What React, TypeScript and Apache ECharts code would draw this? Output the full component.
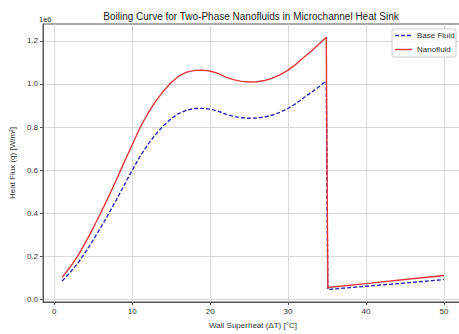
import React, { useEffect, useRef } from "react";
import * as echarts from "echarts";

const deltaT = [1, 2, 3, 4, 5, 6, 7, 8, 9, 10, 11, 12, 13, 14, 15, 16, 17, 18, 19, 20, 21, 22, 23, 24, 25, 26, 27, 28, 29, 30, 31, 32, 33, 34, 34.9, 35.1, 40, 45, 50];
const baseFluid = [0.086, 0.125, 0.168, 0.22, 0.277, 0.337, 0.4, 0.465, 0.533, 0.6, 0.664, 0.719, 0.766, 0.806, 0.839, 0.864, 0.879, 0.886, 0.887, 0.883, 0.874, 0.86, 0.85, 0.843, 0.841, 0.842, 0.847, 0.856, 0.869, 0.887, 0.909, 0.936, 0.961, 0.988, 1.014, 0.047, 0.062, 0.077, 0.093];
const nanofluid = [0.103, 0.15, 0.202, 0.264, 0.333, 0.405, 0.48, 0.558, 0.64, 0.718, 0.797, 0.863, 0.919, 0.967, 1.007, 1.037, 1.055, 1.063, 1.064, 1.06, 1.049, 1.032, 1.02, 1.012, 1.009, 1.01, 1.016, 1.027, 1.043, 1.064, 1.091, 1.123, 1.153, 1.186, 1.217, 0.056, 0.074, 0.093, 0.112];
const xTicks = [0, 10, 20, 30, 40, 50];
const yTicks = [0, 0.2, 0.4, 0.6, 0.8, 1.0, 1.2];
const seriesNames = ["Base Fluid", "Nanofluid"];

const FONT = "Liberation Sans";
const BLUE = "#2a2ab8";
const RED = "#e0363a";

export default function App() {
  const ref = useRef<HTMLDivElement>(null);
  useEffect(() => {
    if (!ref.current) return;
    const chart = echarts.init(ref.current, null, { renderer: "svg" });
    const basePts = deltaT.map((x, i) => [x, baseFluid[i]]);
    const nanoPts = deltaT.map((x, i) => [x, nanofluid[i]]);
    const lx = 392, ly = 29, lw = 64, lh = 28;
    chart.setOption({
      animation: false,
      backgroundColor: "#fff",
      textStyle: { fontFamily: FONT },
      grid: {
        left: 39,
        right: 7,
        top: 24,
        bottom: 27,
        show: true,
        borderColor: "#555",
        borderWidth: 1,
        backgroundColor: "transparent",
      },
      graphic: [
        {
          type: "text",
          x: 251,
          y: 16,
          style: {
            text: "Boiling Curve for Two-Phase Nanofluids in Microchannel Heat Sink",
            font: `10px '${FONT}'`,
            fill: "#222",
            textAlign: "center",
            textVerticalAlign: "middle",
          },
        },
        {
          type: "text",
          x: 39,
          y: 19,
          style: {
            text: "1e6",
            font: `7.5px '${FONT}'`,
            fill: "#333",
            textAlign: "left",
            textVerticalAlign: "middle",
          },
        },
        {
          type: "rect",
          shape: { x: lx, y: ly, width: lw, height: lh, r: 2 },
          style: { fill: "rgba(255,255,255,0.85)", stroke: "#ccc", lineWidth: 1 },
          z: 100,
        },
        {
          type: "line",
          shape: { x1: 395, y1: 35.5, x2: 412, y2: 35.5 },
          style: { stroke: BLUE, lineWidth: 1.4, lineDash: [4, 2] },
          z: 101,
        },
        {
          type: "line",
          shape: { x1: 395, y1: 49.5, x2: 412, y2: 49.5 },
          style: { stroke: RED, lineWidth: 1.4 },
          z: 101,
        },
        {
          type: "text",
          x: 417,
          y: 35.5,
          style: { text: seriesNames[0], font: `8px '${FONT}'`, fill: "#333", textVerticalAlign: "middle" },
          z: 101,
        },
        {
          type: "text",
          x: 417,
          y: 49.5,
          style: { text: seriesNames[1], font: `8px '${FONT}'`, fill: "#333", textVerticalAlign: "middle" },
          z: 101,
        },
      ],
      xAxis: {
        type: "value",
        min: -1.45,
        max: 52.45,
        name: "Wall Superheat (ΔT) [°C]",
        nameLocation: "middle",
        nameGap: 19,
        nameTextStyle: { fontSize: 8, color: "#333", fontFamily: FONT },
        axisLine: { show: true, onZero: false, lineStyle: { color: "#555", width: 1 } },
        axisTick: { show: true, length: 3, lineStyle: { color: "#555" }, customValues: xTicks },
        axisLabel: { fontSize: 8, color: "#333", margin: 5, customValues: xTicks, formatter: (v: number) => String(v) },
        splitLine: { show: true, lineStyle: { color: "#cfcfcf", width: 0.8 } },
      },
      yAxis: {
        type: "value",
        min: -0.011,
        max: 1.278,
        name: "Heat Flux (q) [W/m²]",
        nameLocation: "middle",
        nameGap: 25,
        nameRotate: 90,
        nameTextStyle: { fontSize: 8, color: "#333", fontFamily: FONT },
        axisLine: { show: true, onZero: false, lineStyle: { color: "#555", width: 1 } },
        axisTick: { show: true, length: 3, lineStyle: { color: "#555" }, customValues: yTicks },
        axisLabel: { fontSize: 8, color: "#333", margin: 5, customValues: yTicks, formatter: (v: number) => v.toFixed(1) },
        splitLine: { show: true, lineStyle: { color: "#cfcfcf", width: 0.8 } },
      },
      series: [
        {
          name: seriesNames[0],
          type: "line",
          data: basePts,
          showSymbol: false,
          symbol: "none",
          color: BLUE,
          lineStyle: { color: BLUE, width: 1.4, type: [4, 2] },
          z: 2,
        },
        {
          name: seriesNames[1],
          type: "line",
          data: nanoPts,
          showSymbol: false,
          symbol: "none",
          color: RED,
          lineStyle: { color: RED, width: 1.4 },
          z: 3,
        },
      ],
    });
    return () => chart.dispose();
  }, []);
  return (
    <div style={{ position: "fixed", left: 0, top: 0, width: 459, height: 334, overflow: "hidden", background: "#fff" }}>
      <div ref={ref} style={{ width: 470, height: 334 }} />
    </div>
  );
}
